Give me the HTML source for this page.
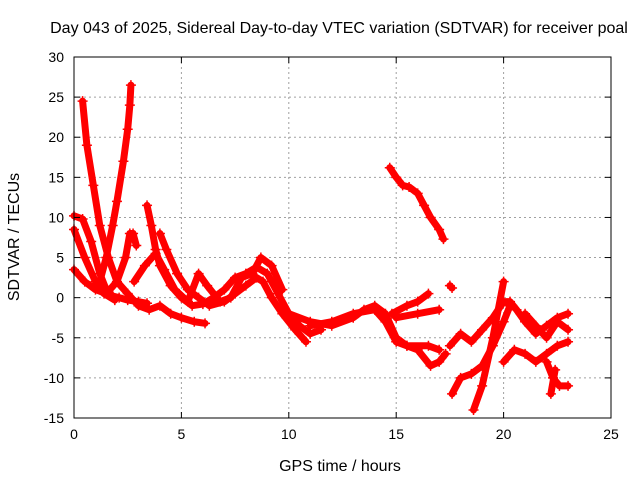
<!DOCTYPE html>
<html><head><meta charset="utf-8"><style>
body{margin:0;background:#fff}
svg{display:block;font-family:"Liberation Sans",sans-serif}
</style></head><body>
<svg id="c" width="640" height="480" xmlns="http://www.w3.org/2000/svg">
<text x="339" y="33" text-anchor="middle" font-size="16">Day 043 of 2025, Sidereal Day-to-day VTEC variation (SDTVAR) for receiver poal</text>
<text x="340" y="471" text-anchor="middle" font-size="16">GPS time / hours</text>
<text transform="translate(19,237) rotate(-90)" text-anchor="middle" font-size="16">SDTVAR / TECUs</text>
<g id="grid"></g><g id="data"></g><g id="axes"></g>
</svg>
<script>
const xTicks=[0,5,10,15,20,25];
const yTicks=[-15,-10,-5,0,5,10,15,20,25,30];
const track1=[[0.4,24.5],[0.6,19],[0.9,14],[1.2,9],[1.6,5],[2.0,2],[2.5,0.5],[3.0,-1],[3.5,-1.5],[4,-1],[4.5,-2],[5,-2.5],[5.6,-3],[6.1,-3.2]];
const track2=[[1.2,2],[1.5,5],[1.8,9],[2.0,12],[2.3,17],[2.5,21],[2.6,24],[2.65,26.5]];
const track3=[[0,10.2],[0.4,9.8],[0.8,7],[1.2,3],[1.5,1],[1.8,0.2],[2.1,0],[2.5,-0.3],[3.0,-0.5],[3.4,-0.7]];
const track4=[[0,8.5],[0.5,5],[1,2],[1.4,0.5],[1.9,-0.3]];
const track5=[[0,3.5],[0.5,2],[1,1],[1.5,0.5],[2,2],[2.4,5],[2.6,8],[2.75,8],[2.9,6.5]];
const track6=[[3.4,11.5],[3.6,9],[3.8,6],[4,4],[4.5,1.5],[5,0],[5.5,-1],[6,-0.8],[6.5,0],[7,1],[7.5,2.5],[8,3],[8.5,3.8],[9,3],[9.5,0.5],[10,-2],[10.5,-3.5],[11,-4.5],[11.5,-4]];
const track7=[[4.0,8],[4.3,6],[4.8,3],[5.3,1],[5.8,0],[6.3,-1],[7,-0.5],[7.5,0.5],[8,1.5],[8.5,2.5],[8.8,2],[9.2,0],[9.7,-2],[10.3,-4],[10.8,-5.5]];
const track8=[[2.8,2],[3.3,4],[3.8,5.5],[4.2,3.5],[4.7,1],[5.3,-0.5],[5.8,3],[6.2,1.5],[6.8,-0.5],[7.3,0],[7.8,2.5],[8.3,3],[8.7,5],[9.2,4],[9.7,1]];
const track9=[[10,-2],[11,-3],[12,-3.5],[13,-2.5],[13.5,-1.5],[14,-1],[14.5,-2],[15,-5],[15.5,-6],[16.5,-6],[17,-6.5]];
const track10=[[11,-3.5],[12,-3],[13,-2],[14,-1.5],[14.5,-3],[15,-5.5],[15.5,-6],[16,-6.5],[16.6,-8.5],[17,-8],[17.3,-7]];
const track11=[[14.7,16.2],[15,15],[15.3,14],[15.6,13.8],[16,13],[16.3,11.5],[16.6,10],[17,8.5],[17.2,7.3]];
const track12=[[14.8,-2],[15.5,-1],[16,-0.5],[16.5,0.5]];
const track13=[[15,-2.5],[16,-2],[17,-1.5]];
const track14=[[17.5,1.5],[17.6,1.2]];
const track15=[[17.6,-12],[18,-10],[18.5,-9.5],[19,-8.5],[19.5,-6],[20,-3],[20.3,-1]];
const track16=[[18.6,-14],[19,-11],[19.5,-5],[20,2]];
const track17=[[17.5,-6],[18,-4.5],[18.5,-5.5],[19,-4],[19.5,-2.5],[20,-0.5],[20.3,-0.5],[20.6,-1.5],[21,-3],[21.5,-4.5],[22,-3.5],[22.5,-2.5],[23,-2]];
const track18=[[20,-8],[20.5,-6.5],[21,-7],[21.5,-8],[22,-7],[22.5,-6],[23,-5.5]];
const track19=[[21,-2],[21.5,-3.5],[22,-5],[22.5,-3],[23,-4]];
const track20=[[22,-8],[22.3,-10],[22.6,-11],[23,-11]];
const track21=[[22.2,-12],[22.4,-9]];
const tracks=[track1,track2,track3,track4,track5,track6,track7,track8,track9,track10,track11,track12,track13,track14,track15,track16,track17,track18,track19,track20,track21];
const X0=74,X1=611,Y0=418,Y1=57;
const sx=t=>X0+(t-0)/(25-0)*(X1-X0);
const sy=v=>Y0-(v+15)/(45)*(Y0-Y1);
const NS='http://www.w3.org/2000/svg';
function mk(tag,attrs,parent){const e=document.createElementNS(NS,tag);for(const k in attrs)e.setAttribute(k,attrs[k]);parent.appendChild(e);return e;}
const grid=document.getElementById('grid'),axes=document.getElementById('axes'),data=document.getElementById('data');
xTicks.forEach(t=>{const x=sx(t);
 if(t>0&&t<25){const g=mk('line',{x1:x,x2:x,y1:Y1,y2:Y0,stroke:'#a0a0a0','stroke-dasharray':'2,3'},grid);
 
 }
 mk('line',{x1:x,x2:x,y1:Y0,y2:Y0-6,stroke:'#000'},axes);mk('line',{x1:x,x2:x,y1:Y1,y2:Y1+6,stroke:'#000'},axes);
 const l=mk('text',{x:x,y:Y0+21,'text-anchor':'middle','font-size':14},axes);l.textContent=t;
 
 });
yTicks.forEach(v=>{const y=sy(v);
 if(v>-15&&v<30){const g=mk('line',{x1:X0,x2:X1,y1:y,y2:y,stroke:'#a0a0a0','stroke-dasharray':'2,3'},grid);
 
 }
 mk('line',{x1:X0,x2:X0+6,y1:y,y2:y,stroke:'#000'},axes);mk('line',{x1:X1,x2:X1-6,y1:y,y2:y,stroke:'#000'},axes);
 const l=mk('text',{x:X0-10,y:y+5,'text-anchor':'end','font-size':14},axes);l.textContent=v;
 
 });
const fr=mk('rect',{x:X0,y:Y1,width:X1-X0,height:Y0-Y1,fill:'none',stroke:'#000'},axes);


tracks.forEach((tr,i)=>{
 const p=mk('polyline',{points:tr.map(d=>sx(d[0])+','+sy(d[1])).join(' '),fill:'none',stroke:'#ff0000','stroke-width':7,'stroke-linejoin':'round','stroke-linecap':'round'},data);
 
 
 tr.forEach(d=>{const x=sx(d[0]),y=sy(d[1]);
  const m=mk('path',{d:`M${x-5},${y}H${x+5}M${x},${y-5}V${y+5}`,stroke:'#ff0000','stroke-width':1.5},data);
  
  });
});
</script>
</body></html>
